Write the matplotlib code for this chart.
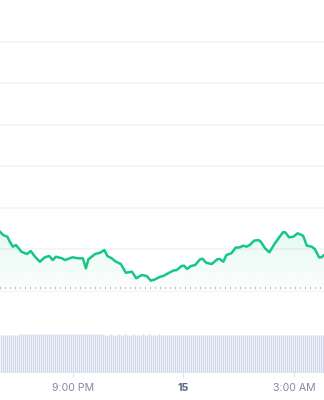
import numpy as np
import pandas as pd
import matplotlib
matplotlib.use("Agg")
import matplotlib.pyplot as plt
import matplotlib.dates as mdates

plt.rcParams['font.family'] = ['Inter', 'DejaVu Sans']

# price trace: minutes after 19:00 on the 14th, price
minutes = [1, 6, 13, 17, 22, 27, 36, 45, 51, 58, 66, 74, 81, 87, 92, 102, 107,
           119, 129, 136, 141, 145, 156, 164, 171, 176, 183, 190, 198, 206, 216,
           223, 232, 240, 247, 254, 262, 267, 275, 283, 289, 297, 301, 306, 312,
           319, 327, 331, 337, 346, 355, 359, 365, 370, 378, 385, 392, 397, 403,
           408, 415, 422, 426, 433, 440, 449, 462, 466, 472, 479, 486, 490, 495,
           501, 509, 514, 521, 525, 529]
price = [62.208, 62.169, 62.148, 62.088, 62.028, 62.048, 61.967, 61.940, 61.976,
         61.907, 61.847, 61.900, 61.916, 61.867, 61.907, 61.888, 61.867, 61.900,
         61.888, 61.888, 61.767, 61.876, 61.940, 61.955, 61.988, 61.916, 61.888,
         61.847, 61.819, 61.714, 61.727, 61.647, 61.687, 61.675, 61.618, 61.635,
         61.666, 61.675, 61.707, 61.739, 61.747, 61.795, 61.799, 61.759, 61.795,
         61.807, 61.876, 61.883, 61.835, 61.819, 61.876, 61.880, 61.847, 61.928,
         61.948, 62.016, 62.020, 62.040, 62.028, 62.048, 62.100, 62.108, 62.088,
         62.008, 61.960, 62.069, 62.201, 62.201, 62.141, 62.148, 62.189, 62.177,
         62.160, 62.040, 62.028, 62.000, 61.900, 61.900, 61.928]
ref_price = 61.530

volume = [38.3, 38.4, 38.2, 38.3, 38.4, 38.3, 38.2, 38.4, 38.3, 39.3, 39.2, 39.4, 39.3, 39.2, 39.3, 39.4, 39.3, 39.2,
          39.3, 39.2, 39.4, 39.3, 39.0, 39.1, 38.9, 39.0, 39.1, 39.0, 38.9, 39.0, 39.1, 39.0, 38.9, 39.1, 39.0, 39.0,
          38.9, 39.1, 39.0, 39.2, 39.1, 39.0, 39.2, 39.0, 39.1, 39.3, 39.4, 39.2, 39.3, 39.4, 39.2, 38.6, 38.5, 38.4,
          38.5, 38.6, 38.4, 38.5, 38.5, 38.6, 38.4, 38.5, 38.6, 38.5, 38.4, 38.5, 38.6, 38.5, 38.4, 38.5, 38.5, 38.6,
          38.4, 38.5, 38.6, 38.5, 38.4, 38.5, 38.5, 38.6, 38.4, 38.5, 38.5, 38.0, 38.1, 37.9, 38.0, 38.0, 38.1, 37.9,
          38.0, 38.1, 37.9, 38.0, 38.0, 38.1, 37.9, 38.0, 38.1, 38.0, 37.9, 38.0, 38.1, 38.0, 37.9, 38.0, 38.0, 38.1,
          37.9, 38.0, 38.1, 38.0, 37.9, 38.0, 38.0, 38.1, 38.0, 37.9, 38.0, 38.1, 38.0, 37.9, 38.0, 38.1, 38.0, 38.0,
          38.1, 37.9, 38.0, 38.0, 38.1, 37.9, 38.0, 38.1, 38.0, 37.9, 38.0, 38.0, 38.1, 38.0, 37.9, 38.0, 38.1, 38.0,
          37.9, 38.0, 38.1, 38.0, 38.0, 37.9, 38.0, 38.1, 38.0, 37.9, 38.0, 38.0, 38.1, 38.0, 37.9, 38.0, 38.1, 38.0]

tick_times = ["2024-03-14 21:00", "2024-03-15 00:00", "2024-03-15 03:00"]
tick_labels = ["9:00 PM", "15", "3:00 AM"]
grid_levels = [62.0, 62.5, 63.0, 63.5, 64.0, 64.5]

green = '#16c784'
grid_c = '#f1f3f5'

base = pd.Timestamp("2024-03-14 19:00")
t = base + pd.to_timedelta(minutes, unit="min")
x = mdates.date2num(t)
x0 = mdates.date2num(base + pd.Timedelta(minutes=1))
x1 = mdates.date2num(base + pd.Timedelta(minutes=529))
ybot, ytop = 61.482, 65.0

fig = plt.figure(figsize=(3.24, 4.0), dpi=100)
ax = fig.add_axes([0, 0.27, 1, 0.73])
axv = fig.add_axes([0, 27 / 400, 1, 48 / 400])

for g in grid_levels:
    ax.axhline(g, color=grid_c, lw=1.1, zorder=0)
ax.axhline(ybot, color=grid_c, lw=1.3, zorder=0)

# gradient under the line
poly = ax.fill_between(x, price, ybot, color='none', lw=0)
grad = np.zeros((256, 1, 4))
grad[:, 0, 0] = 22 / 255
grad[:, 0, 1] = 199 / 255
grad[:, 0, 2] = 132 / 255
grad[:, 0, 3] = np.linspace(0.01, 0.11, 256)
im = ax.imshow(grad, extent=[x[0], x[-1], ybot, max(price)], aspect='auto',
               origin='lower', zorder=1)
im.set_clip_path(poly.get_paths()[0], ax.transData)

ax.axhline(ref_price, color='#a9b0bc', lw=1.2, ls=(0, (0.6, 2.4)), zorder=2)
ax.plot(x, price, color=green, lw=1.8, solid_joinstyle='round', zorder=3)

ax.set_xlim(x0, x1)
ax.set_ylim(ybot, ytop)
ax.axis('off')

# volume bars, drawn as thin vertical strokes
vt = mdates.date2num(base + pd.to_timedelta(np.linspace(2.6, 527.4, len(volume)), unit="min"))
axv.vlines(vt, 0, volume, colors='#d0d9eb', lw=1.0)
axv.set_xlim(x0, x1)
axv.set_ylim(0, 48)
for s in axv.spines.values():
    s.set_visible(False)
axv.set_yticks([])
axv.set_xticks(mdates.date2num(pd.to_datetime(tick_times)))
axv.set_xticklabels(tick_labels)
axv.tick_params(axis='x', length=3, width=0.8, color='#dfe3e9', pad=4.5,
                labelsize=7.6, labelcolor='#808a9d')
lbls = axv.get_xticklabels()
lbls[1].set_fontweight('bold')
lbls[1].set_color('#58667e')

fig.savefig("out.png", dpi=100)
